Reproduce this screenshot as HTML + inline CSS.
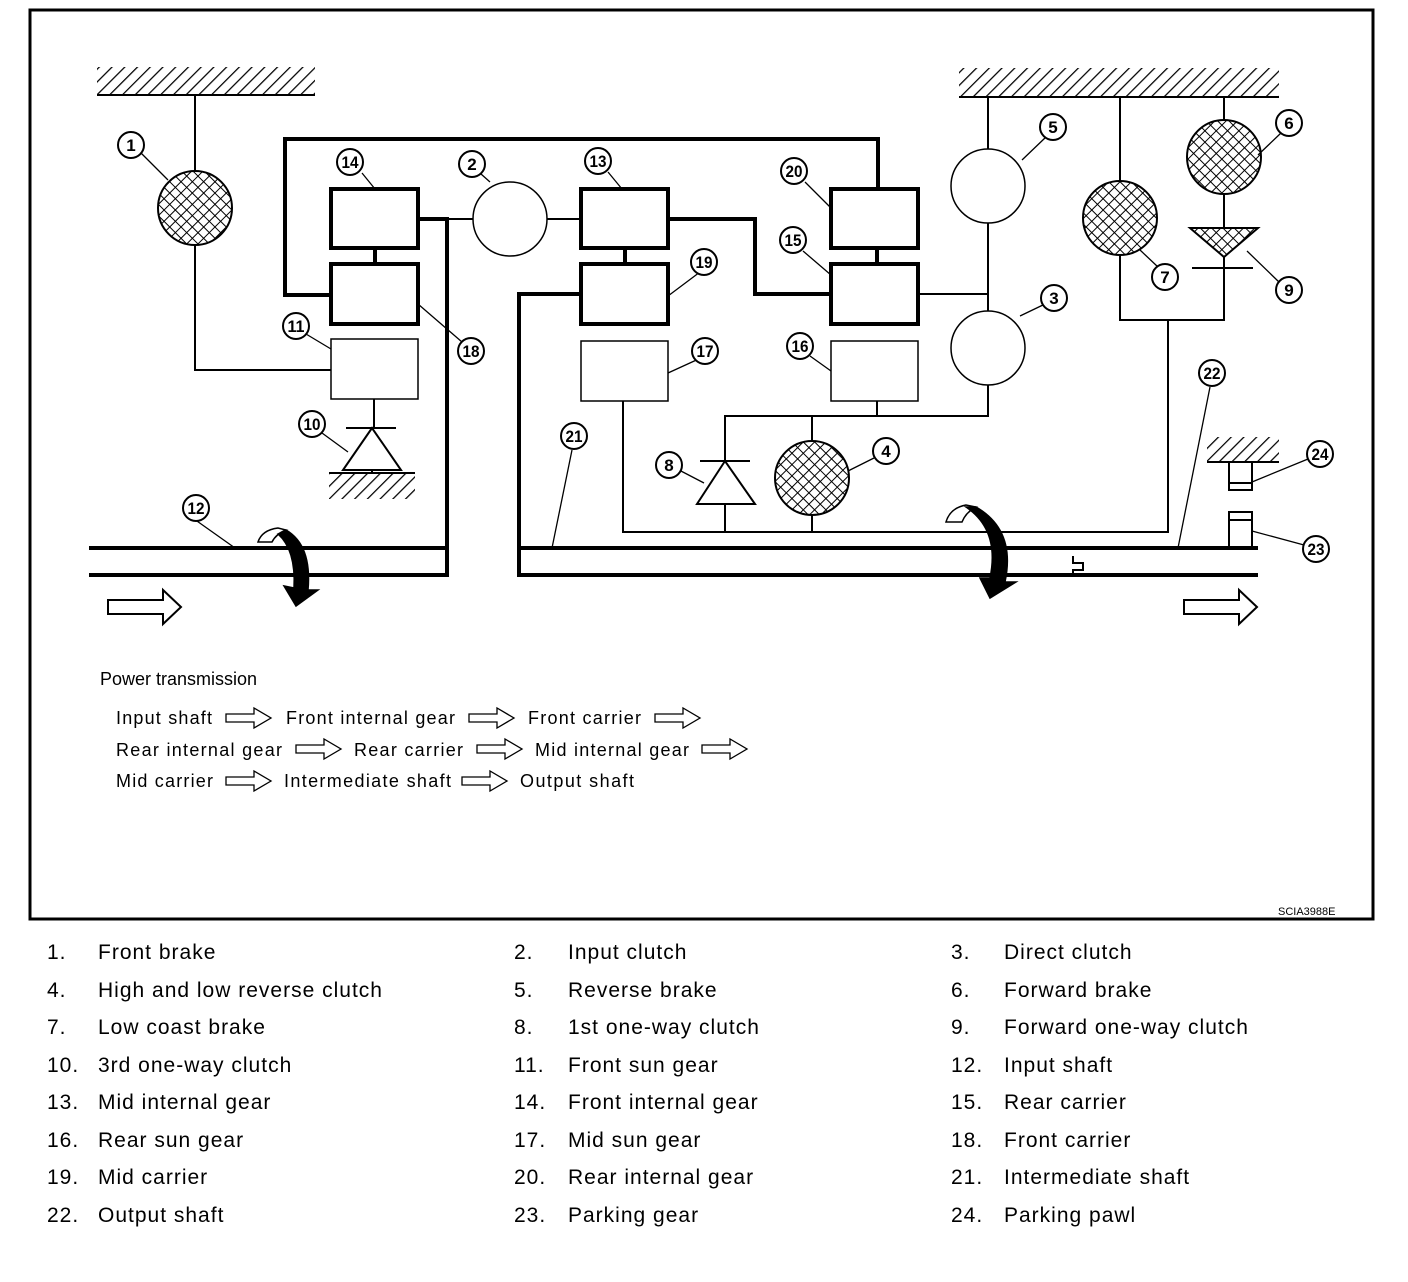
<!DOCTYPE html>
<html><head><meta charset="utf-8"><style>
body{margin:0;background:#fff}
svg{display:block}
text{font-family:"Liberation Sans",sans-serif;fill:#000}
.n{font-weight:bold;font-size:17px;text-anchor:middle}
</style></head><body>
<svg width="1408" height="1282" viewBox="0 0 1408 1282" xmlns="http://www.w3.org/2000/svg">
<defs>
<pattern id="h" width="9" height="9" patternUnits="userSpaceOnUse" patternTransform="rotate(45)"><line x1="0" y1="0" x2="0" y2="9" stroke="#000" stroke-width="2.5"/></pattern>
<pattern id="x" width="8" height="8" patternUnits="userSpaceOnUse" patternTransform="rotate(45)"><rect width="8" height="8" fill="#fff"/><path d="M0 0V8M0 0H8" stroke="#000" stroke-width="2"/></pattern>
<g id="oa"><path d="M0 -4H28V-10L45 0L28 10V4H0Z" fill="#fff" stroke="#000" stroke-width="1.3"/></g>
<g id="ba"><path d="M0 -7H55V-17L73 0L55 17V7H0Z" fill="#fff" stroke="#000" stroke-width="2"/></g>
</defs>
<rect x="30" y="10" width="1343" height="909" fill="none" stroke="#000" stroke-width="3"/>

<!-- hatches -->
<rect x="97" y="67" width="218" height="28" fill="url(#h)"/><line x1="97" y1="95" x2="315" y2="95" stroke="#000" stroke-width="2"/>
<rect x="959" y="68" width="320" height="29" fill="url(#h)"/><line x1="959" y1="97" x2="1279" y2="97" stroke="#000" stroke-width="2"/>
<rect x="329" y="474" width="86" height="25" fill="url(#h)"/><line x1="329" y1="473" x2="415" y2="473" stroke="#000" stroke-width="2"/>
<rect x="1207" y="437" width="72" height="25" fill="url(#h)"/><line x1="1207" y1="462" x2="1279" y2="462" stroke="#000" stroke-width="2"/>

<g fill="none" stroke="#000" stroke-width="2">
<path d="M195 95V370H331"/>
<path d="M418 219H473"/><path d="M547 219H581"/>
<path d="M374 399V428M346 428H396M372 470V473"/>
<path d="M918 294H988M988 97V416H725V461M700 461H750M725 504V532M877 401V416M812 416V532M623 401V532H1168V320H1120V97M1224 97V268M1192 268H1253M1224 268V320H1168"/>
<path d="M1229 462V490H1252V462M1229 483H1252"/>
<path d="M1229 548V512H1252V548M1229 520H1252"/>
<polygon points="372,428 343,470 401,470"/>
<polygon points="725,461 697,504 755,504"/>
</g>
<g fill="none" stroke="#000" stroke-width="4">
<rect x="331" y="189" width="87" height="59"/><rect x="331" y="264" width="87" height="60"/>
<rect x="581" y="189" width="87" height="59"/><rect x="581" y="264" width="87" height="60"/>
<rect x="831" y="189" width="87" height="59"/><rect x="831" y="264" width="87" height="60"/>
<path d="M375 248V264M625 248V264M877 248V264"/>
<path d="M331 295H285V139H878V189"/>
<path d="M418 219H447V575H89M89 548H447"/>
<path d="M668 219H755V294H831"/>
<path d="M581 294H519V575H1258M519 548H1258"/>
</g>
<path d="M1073 575V570H1083V563H1073V556" fill="none" stroke="#000" stroke-width="2"/>
<g fill="#fff" stroke="#000" stroke-width="1.5">
<rect x="331" y="339" width="87" height="60"/><rect x="581" y="341" width="87" height="60"/><rect x="831" y="341" width="87" height="60"/>
<circle cx="510" cy="219" r="37"/><circle cx="988" cy="186" r="37"/><circle cx="988" cy="348" r="37"/>
</g>
<g stroke="#000" stroke-width="2" fill="url(#x)">
<circle cx="195" cy="208" r="37"/><circle cx="812" cy="478" r="37"/><circle cx="1120" cy="218" r="37"/><circle cx="1224" cy="157" r="37"/>
<polygon points="1190,228 1258,228 1224,257"/>
</g>

<g stroke="#000" stroke-width="1.5">
<path d="M258 542Q262 530 278 528L286 530Q276 534 272 542Z" fill="#fff"/>
<path d="M286 530Q312 545 308 590L318 590L296 606L284 586L294 588Q296 550 278 534Z" fill="#000"/>
<path d="M946 522Q950 508 966 505L976 507Q966 512 962 522Z" fill="#fff"/>
<path d="M976 507Q1016 530 1005 582L1016 582L990 598L980 578L990 578Q1000 530 966 507Z" fill="#000"/>
</g>
<use href="#ba" x="108" y="607"/>
<use href="#ba" x="1184" y="607"/>

<g stroke="#000" stroke-width="1.3">
<path d="M140 152L168 180M362 173L375 189M481 174L490 182M608 172L622 189M805 182L831 208M803 251L831 275M700 272L668 296M462 342L418 304M306 334L331 349M322 433L348 452M703 357L668 373M810 356L831 371M572 450L552 548M679 470L704 483M874 458L848 471M1046 137L1022 160M1281 133L1258 155M1158 267L1140 250M1280 283L1247 251M1045 304L1020 316M1210 387L1178 548M1308 459L1252 482M1304 545L1252 531M187 514L235 548"/>
</g>
<g fill="#fff" stroke="#000" stroke-width="2">
<circle cx="131" cy="145" r="13"/><circle cx="350" cy="162" r="13"/><circle cx="472" cy="164" r="13"/><circle cx="598" cy="161" r="13"/><circle cx="794" cy="171" r="13"/><circle cx="793" cy="240" r="13"/><circle cx="704" cy="262" r="13"/><circle cx="471" cy="351" r="13"/><circle cx="296" cy="326" r="13"/><circle cx="312" cy="424" r="13"/><circle cx="705" cy="351" r="13"/><circle cx="800" cy="346" r="13"/><circle cx="574" cy="436" r="13"/><circle cx="669" cy="465" r="13"/><circle cx="886" cy="451" r="13"/><circle cx="196" cy="508" r="13"/><circle cx="1053" cy="127" r="13"/><circle cx="1289" cy="123" r="13"/><circle cx="1165" cy="277" r="13"/><circle cx="1289" cy="290" r="13"/><circle cx="1054" cy="298" r="13"/><circle cx="1212" cy="373" r="13"/><circle cx="1320" cy="454" r="13"/><circle cx="1316" cy="549" r="13"/>
</g>
<g class="n">
<text x="131" y="151">1</text><text x="350" y="168" textLength="17" lengthAdjust="spacingAndGlyphs">14</text><text x="472" y="170">2</text><text x="598" y="167" textLength="17" lengthAdjust="spacingAndGlyphs">13</text><text x="794" y="177" textLength="17" lengthAdjust="spacingAndGlyphs">20</text><text x="793" y="246" textLength="17" lengthAdjust="spacingAndGlyphs">15</text><text x="704" y="268" textLength="17" lengthAdjust="spacingAndGlyphs">19</text><text x="471" y="357" textLength="17" lengthAdjust="spacingAndGlyphs">18</text><text x="296" y="332" textLength="17" lengthAdjust="spacingAndGlyphs">11</text><text x="312" y="430" textLength="17" lengthAdjust="spacingAndGlyphs">10</text><text x="705" y="357" textLength="17" lengthAdjust="spacingAndGlyphs">17</text><text x="800" y="352" textLength="17" lengthAdjust="spacingAndGlyphs">16</text><text x="574" y="442" textLength="17" lengthAdjust="spacingAndGlyphs">21</text><text x="669" y="471">8</text><text x="886" y="457">4</text><text x="196" y="514" textLength="17" lengthAdjust="spacingAndGlyphs">12</text><text x="1053" y="133">5</text><text x="1289" y="129">6</text><text x="1165" y="283">7</text><text x="1289" y="296">9</text><text x="1054" y="304">3</text><text x="1212" y="379" textLength="17" lengthAdjust="spacingAndGlyphs">22</text><text x="1320" y="460" textLength="17" lengthAdjust="spacingAndGlyphs">24</text><text x="1316" y="555" textLength="17" lengthAdjust="spacingAndGlyphs">23</text>
</g>

<g font-size="18">
<text x="100" y="685">Power transmission</text>
<text x="116" y="724" textLength="96">Input shaft</text><text x="286" y="724" textLength="169">Front internal gear</text><text x="528" y="724" textLength="113">Front carrier</text>
<text x="116" y="756" textLength="166">Rear internal gear</text><text x="354" y="756" textLength="109">Rear carrier</text><text x="535" y="756" textLength="154">Mid internal gear</text>
<text x="116" y="787" textLength="97">Mid carrier</text><text x="284" y="787" textLength="167">Intermediate shaft</text><text x="520" y="787" textLength="114">Output shaft</text>
</g>
<use href="#oa" x="226" y="718"/><use href="#oa" x="469" y="718"/><use href="#oa" x="655" y="718"/>
<use href="#oa" x="296" y="749"/><use href="#oa" x="477" y="749"/><use href="#oa" x="702" y="749"/>
<use href="#oa" x="226" y="781"/><use href="#oa" x="462" y="781"/>
<text x="1278" y="915" font-size="11">SCIA3988E</text>

<g font-size="21" letter-spacing="1">
<text x="47" y="959">1.</text><text x="98" y="959">Front brake</text><text x="514" y="959">2.</text><text x="568" y="959">Input clutch</text><text x="951" y="959">3.</text><text x="1004" y="959">Direct clutch</text>
<text x="47" y="997">4.</text><text x="98" y="997">High and low reverse clutch</text><text x="514" y="997">5.</text><text x="568" y="997">Reverse brake</text><text x="951" y="997">6.</text><text x="1004" y="997">Forward brake</text>
<text x="47" y="1034">7.</text><text x="98" y="1034">Low coast brake</text><text x="514" y="1034">8.</text><text x="568" y="1034">1st one-way clutch</text><text x="951" y="1034">9.</text><text x="1004" y="1034">Forward one-way clutch</text>
<text x="47" y="1072">10.</text><text x="98" y="1072">3rd one-way clutch</text><text x="514" y="1072">11.</text><text x="568" y="1072">Front sun gear</text><text x="951" y="1072">12.</text><text x="1004" y="1072">Input shaft</text>
<text x="47" y="1109">13.</text><text x="98" y="1109">Mid internal gear</text><text x="514" y="1109">14.</text><text x="568" y="1109">Front internal gear</text><text x="951" y="1109">15.</text><text x="1004" y="1109">Rear carrier</text>
<text x="47" y="1147">16.</text><text x="98" y="1147">Rear sun gear</text><text x="514" y="1147">17.</text><text x="568" y="1147">Mid sun gear</text><text x="951" y="1147">18.</text><text x="1004" y="1147">Front carrier</text>
<text x="47" y="1184">19.</text><text x="98" y="1184">Mid carrier</text><text x="514" y="1184">20.</text><text x="568" y="1184">Rear internal gear</text><text x="951" y="1184">21.</text><text x="1004" y="1184">Intermediate shaft</text>
<text x="47" y="1222">22.</text><text x="98" y="1222">Output shaft</text><text x="514" y="1222">23.</text><text x="568" y="1222">Parking gear</text><text x="951" y="1222">24.</text><text x="1004" y="1222">Parking pawl</text>
</g>
</svg>
</body></html>
